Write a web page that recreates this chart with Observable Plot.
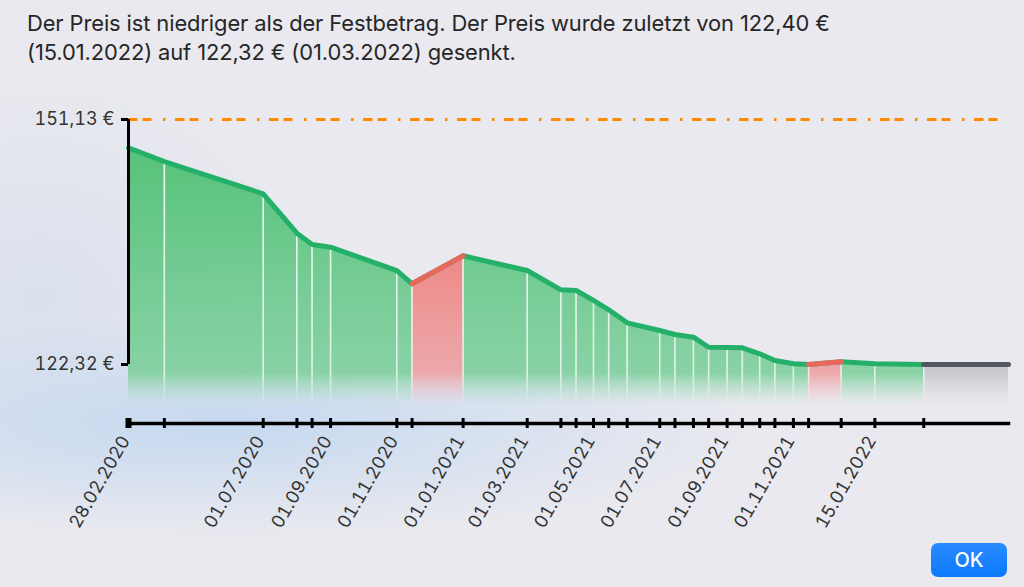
<!DOCTYPE html>
<html>
<head>
<meta charset="utf-8">
<script src="https://cdn.jsdelivr.net/npm/d3@7"></script>
<script src="https://cdn.jsdelivr.net/npm/@observablehq/plot@0.6"></script>
<style>
  html, body { margin: 0; padding: 0; width: 1024px; height: 587px; overflow: hidden; }
  body {
    font-family: Inter, "Noto Sans", sans-serif;
    background:
      radial-gradient(ellipse 520px 110px at 230px 425px, rgba(196,216,240,0.95), rgba(196,216,240,0) 100%),
      radial-gradient(ellipse 260px 220px at 40px 300px, rgba(214,222,236,0.8), rgba(214,222,236,0) 100%),
      #e9e9ef;
    position: relative;
  }
  #title {
    position: absolute; left: 27px; top: 9px; width: 995px;
    font-size: 21.9px; line-height: 29px; color: #262626; letter-spacing: -0.1px;
  }
  #chart { position: absolute; left: 0; top: 80px; }
  #ok {
    position: absolute; left: 931px; top: 543px; width: 76px; height: 34px;
    border-radius: 7px; background: linear-gradient(#2a8bff, #0b79fb);
    color: white; font-size: 20px; font-weight: 500; text-align: center; line-height: 34px;
  }
</style>
</head>
<body>
<div id="title">Der Preis ist niedriger als der Festbetrag. Der Preis wurde zuletzt von 122,40 €<br>(15.01.2022) auf 122,32 € (01.03.2022) gesenkt.</div>
<div id="chart"></div>
<div id="ok">OK</div>
<script>
// Price change dates and prices (€)
const dates = ["2020-02-28","2020-04-01","2020-07-01","2020-08-01","2020-08-15","2020-09-01","2020-11-01","2020-11-15","2021-01-01","2021-03-01","2021-04-01","2021-04-15","2021-05-01","2021-05-15","2021-06-01","2021-07-01","2021-07-15","2021-08-01","2021-08-15","2021-09-01","2021-09-15","2021-10-01","2021-10-15","2021-11-01","2021-11-15","2021-12-15","2022-01-15","2022-03-01"];
const prices = [147.8,146.19,142.39,137.76,136.43,136.11,133.37,131.81,135.10,133.37,131.10,131.02,129.85,128.75,127.22,126.32,125.85,125.53,124.35,124.32,124.28,123.58,122.79,122.40,122.32,122.64,122.40,122.32];
const today = "2022-05-18";
const festbetrag = 151.13;
const labelDates = ["2020-02-28","2020-07-01","2020-09-01","2020-11-01","2021-01-01","2021-03-01","2021-05-01","2021-07-01","2021-09-01","2021-11-01","2022-01-15"];
const yTicks = [151.13, 122.32];

const parse = s => new Date(s + "T00:00:00Z");
const pts = dates.map((d, i) => ({date: parse(d), price: prices[i]}));
const last = pts[pts.length - 1];
const todayPt = {date: parse(today), price: last.price};

// segments between consecutive points
const segs = [];
for (let i = 0; i < pts.length - 1; i++) {
  const type = pts[i + 1].price > pts[i].price ? "up" : "down";
  segs.push({id: i, type, a: pts[i], b: pts[i + 1]});
}
segs.push({id: pts.length - 1, type: "future", a: last, b: todayPt});
const segRows = type => segs.filter(s => s.type === type).flatMap(s => [
  {seg: s.id, date: s.a.date, price: s.a.price},
  {seg: s.id, date: s.b.date, price: s.b.price}
]);

const yBase = 117.5;
const fmtDate = d3.utcFormat("%d.%m.%Y");
const fmtEuro = v => v.toFixed(2).replace(".", ",") + " €";

const defs = (index, scales) => {
  const y0 = scales.y(148), y1 = scales.y(yBase);
  const mid = (scales.y(122.32) + 9 - y0) / (y1 - y0);
  const svg = d3.create("svg:defs");
  const mk = (id, stops) => {
    const g = svg.append("linearGradient").attr("id", id)
      .attr("gradientUnits", "userSpaceOnUse")
      .attr("x1", 0).attr("x2", 0).attr("y1", y0).attr("y2", y1);
    stops.forEach(([o, c, op]) => g.append("stop").attr("offset", o).attr("stop-color", c).attr("stop-opacity", op));
  };
  mk("gGreen", [[0, "#55c279", 1], [mid, "#84d1a1", 0.95], [1, "#a9dcc2", 0]]);
  mk("gRed", [[0, "#ec6a62", 1], [mid, "#eea1a3", 0.9], [1, "#f0c0c8", 0]]);
  mk("gGray", [[0, "#b9babf", 1], [mid, "#c6c7cc", 0.9], [1, "#d4d5da", 0]]);
  mk("gWhite", [[0, "#ffffff", 0.9], [mid, "#ffffff", 0.7], [1, "#ffffff", 0]]);
  return svg.node();
};

const area = (type, fill) => Plot.areaY(segRows(type), {x: "date", y1: yBase, y2: "price", z: "seg", fill, curve: "linear"});

const chart = Plot.plot({
  width: 1024,
  height: 460,
  marginLeft: 128,
  marginRight: 16,
  marginTop: 39,
  marginBottom: 117,
  style: {background: "transparent", fontFamily: "Inter, 'Noto Sans', sans-serif", fontSize: "18px", color: "#333", overflow: "visible"},
  x: {type: "utc", domain: [pts[0].date, todayPt.date]},
  y: {domain: [115.38, 151.13]},
  marks: [
    defs,
    area("down", "url(#gGreen)"),
    area("up", "url(#gRed)"),
    area("future", "url(#gGray)"),
    Plot.ruleX(pts.slice(1), {x: "date", y1: yBase, y2: "price", stroke: "url(#gWhite)", strokeWidth: 1.6}),
    Plot.line(pts, {x: "date", y: "price", stroke: "#25b06a", strokeWidth: 5, strokeLinejoin: "round"}),
    Plot.line(segRows("up"), {x: "date", y: "price", z: "seg", stroke: "#ea675c", strokeWidth: 5}),
    Plot.line(segRows("future"), {x: "date", y: "price", z: "seg", stroke: "#55585e", strokeWidth: 5}),
    Plot.ruleY([festbetrag], {x1: pts[0].date, x2: todayPt.date, stroke: "#ff8a00", strokeWidth: 3, strokeDasharray: "9.5 5 9 11.5 2.5 9.5"}),
    Plot.ruleX([pts[0].date], {y1: 122.32, y2: festbetrag, stroke: "black", strokeWidth: 3}),
    Plot.axisY({ticks: yTicks, tickFormat: fmtEuro, tickSize: 7, tickPadding: 7, strokeWidth: 3, stroke: "black", color: "#333", fontSize: 18, label: null}),
    Plot.frame({anchor: "bottom", stroke: "black", strokeWidth: 3.5}),
    Plot.ruleX(pts, {x: "date", insetTop: 304 - 5, insetBottom: -5, stroke: "black", strokeWidth: 3}),
    Plot.ruleX([pts[0].date], {insetTop: 304 - 5, insetBottom: -5, stroke: "black", strokeWidth: 6}),
    Plot.axisX({ticks: labelDates.map(parse), tickFormat: fmtDate, tickSize: 0, tickRotate: -60, tickPadding: 14, dx: -3, fontSize: 18, color: "#333", label: null})
  ]
});
document.getElementById("chart").appendChild(chart);
</script>
</body>
</html>
